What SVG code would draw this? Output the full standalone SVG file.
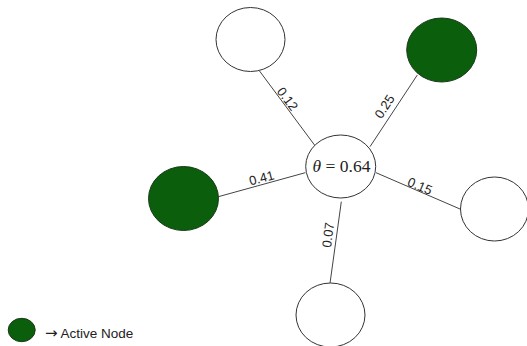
<svg xmlns="http://www.w3.org/2000/svg" width="527" height="346" viewBox="0 0 527 346">
<style>
.node{fill:#ffffff;stroke:#333333;stroke-width:1}
.active{fill:#0b5e0b;stroke:#1a3a1a;stroke-width:1}
.edge{stroke:#444444;stroke-width:1;fill:none}
.lbl{font-family:"Liberation Sans",Arial,sans-serif;font-size:13px;fill:#222222;text-anchor:middle}
.theta{font-family:"Liberation Serif","Times New Roman",serif;font-size:17.5px;fill:#222222;text-anchor:middle}
.legend{font-family:"Liberation Sans",Arial,sans-serif;font-size:13.5px;fill:#222222}
.arrow{font-family:"DejaVu Sans",sans-serif;font-size:15px}
</style>
<rect width="527" height="346" fill="#ffffff"/>
<g id="connectors">
<line class="edge" x1="259.3" y1="70.7" x2="315" y2="145.7"/>
<line class="edge" x1="417.3" y1="75" x2="370" y2="146.7"/>
<line class="edge" x1="218.3" y1="196.7" x2="305.3" y2="172.7"/>
<line class="edge" x1="376" y1="172.7" x2="460.7" y2="209.3"/>
<line class="edge" x1="341.3" y1="201.7" x2="330" y2="283.3"/>
<text class="lbl" transform="translate(287.5,99) rotate(53)" dy="4.5">0.12</text>
<text class="lbl" transform="translate(384.5,106.5) rotate(-57)" dy="4.5">0.25</text>
<text class="lbl" transform="translate(261.5,178) rotate(-15)" dy="4.5">0.41</text>
<text class="lbl" transform="translate(420,186) rotate(23)" dy="4.5">0.15</text>
<text class="lbl" transform="translate(328,235) rotate(-83)" dy="4.5">0.07</text>
</g>
<g id="center">
<ellipse class="node" cx="340.7" cy="166.5" rx="35" ry="31.5"/>
<text class="theta" x="341.5" y="172"><tspan font-style="italic">θ</tspan> = 0.64</text>
</g>
<g id="n-topleft"><ellipse class="node" cx="250.5" cy="39.5" rx="34.5" ry="32"/></g>
<g id="n-topright"><ellipse class="active" cx="441.7" cy="50" rx="35" ry="32"/></g>
<g id="n-left"><ellipse class="active" cx="183.5" cy="198.5" rx="35" ry="32"/></g>
<g id="n-right"><ellipse class="node" cx="494.5" cy="209" rx="34" ry="32"/></g>
<g id="n-bottom"><ellipse class="node" cx="330.5" cy="315" rx="34.5" ry="32"/></g>
<g id="legend">
<ellipse class="active" cx="21.7" cy="330" rx="13.5" ry="11.7"/>
<text class="legend" x="45" y="337.7"><tspan class="arrow">→</tspan> Active Node</text>
</g>
</svg>
